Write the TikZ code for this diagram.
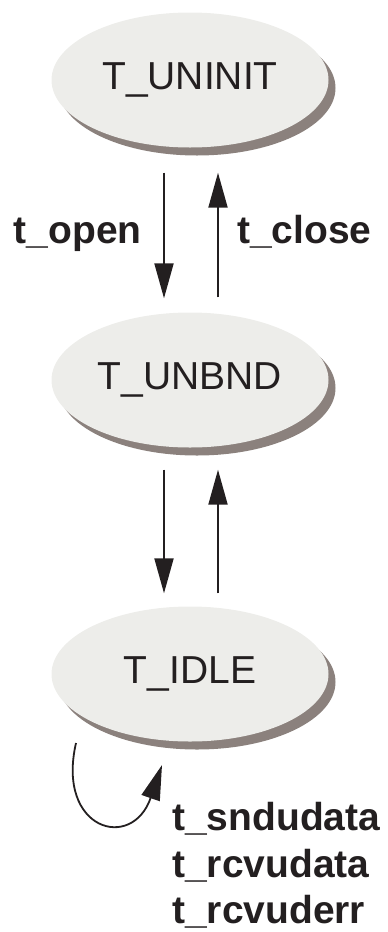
\documentclass[tikz,border=0pt]{standalone}
\usepackage{fontspec}
\setmainfont{Liberation Sans}
\usetikzlibrary{shapes.geometric, shadows, calc, arrows.meta, positioning}
\definecolor{statefill}{HTML}{EDEDEA}
\definecolor{stateshade}{HTML}{8B817D}
\definecolor{ink}{HTML}{231F20}
\tikzset{
  state/.style={ellipse, fill=statefill, minimum width=277pt, minimum height=135pt, inner sep=0pt,
    drop shadow={shadow xshift=7pt, shadow yshift=-8pt, fill=stateshade, opacity=1},
    font=\fontsize{39}{46}\selectfont, text=ink},
  trans/.style={ink, line width=2pt, -{Triangle[length=35pt,width=19pt]}},
  lbl/.style={font=\fontsize{39}{46}\selectfont\bfseries, text=ink, inner sep=0pt}
}

\begin{document}
\begin{tikzpicture}[x=1pt,y=1pt]
        \useasboundingbox (0,0) rectangle (388,-932);

        %stati
        \node[state] (uninit) at (190,-80) {T\_UNINIT};
        \node[state] (unbnd) at (190,-380) {T\_UNBND};
        \node[state] (idle) at (190,-674) {T\_IDLE};

        %t_open / t_close
        \draw[trans] ($(uninit.south)+(-26,-25)$) -- ($(unbnd.north)+(-26,14)$);
        \draw[trans] ($(unbnd.north)+(28,15)$) -- ($(uninit.south)+(28,-25)$);
        \node[lbl, anchor=base east] (openlbl) at (142,-243) {t\_open};
        \node[lbl, anchor=base west] (closelbl) at (237,-243) {t\_close};

        %frecce tra T_UNBND e T_IDLE
        \draw[trans] ($(unbnd.south)+(-26,-22)$) -- ($(idle.north)+(-26,13)$);
        \draw[trans] ($(idle.north)+(28,13)$) -- ($(unbnd.south)+(28,-22)$);

        %anello su T_IDLE
        \coordinate (loopin) at ($(idle.center)+(-114,-69)$);
        \coordinate (loopout) at ($(idle.center)+(-28,-91)$);
        \draw[trans, line width=1.8pt] (loopin) .. controls ($(loopin)+(-20,-87)$) and ($(loopout)+(-30,-87)$) .. (loopout);

        %etichette dell'anello
        \node[lbl, anchor=base west] (sndlbl) at (172,-830) {t\_sndudata};
        \node[lbl, anchor=base west] (rcvlbl) at (172,-877) {t\_rcvudata};
        \node[lbl, anchor=base west] (errlbl) at (172,-923) {t\_rcvuderr};
\end{tikzpicture}
\end{document}
